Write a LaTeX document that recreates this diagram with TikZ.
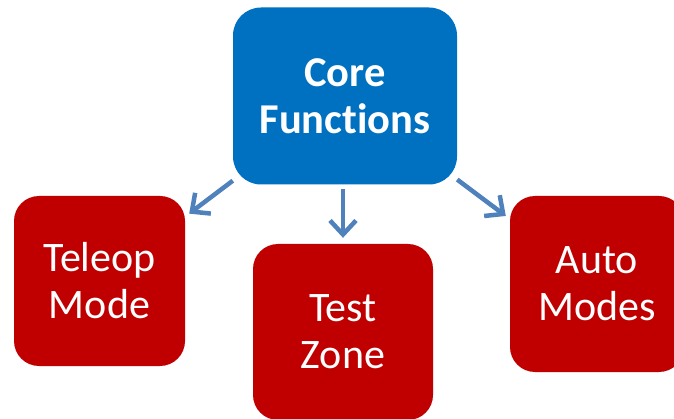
\documentclass[tikz,border=0pt]{standalone}
\usepackage{fontspec}
\setmainfont[Ligatures=NoCommon]{Carlito}
\usetikzlibrary{arrows.meta}
\definecolor{coreblue}{HTML}{0070C0}
\definecolor{boxred}{HTML}{C00000}
\definecolor{arrowblue}{HTML}{4F81BD}
\tikzset{
  corebox/.style={fill=coreblue, draw=none, rounded corners=28pt, text=white, align=center, inner sep=0pt,
    minimum width=224pt, minimum height=177pt, font=\fontsize{42.5}{47}\selectfont\bfseries},
  modebox/.style={fill=boxred, draw=none, rounded corners=25pt, text=white, align=center, inner sep=0pt,
    font=\fontsize{42}{47}\selectfont},
  link/.style={draw=arrowblue, line width=4.5pt, -{Straight Barb[length=14pt, width=26pt, line width=4.5pt]}}
}
\begin{document}
\begin{tikzpicture}[x=1pt,y=-1pt]
\clip (0,0) rectangle (674,419);
\fill[white] (0,0) rectangle (674,419);
\node[corebox] (core) at (345,96) {Core\\Functions};
\node[modebox, minimum width=171pt, minimum height=170pt] (teleop) at (99.5,281) {Teleop\\Mode};
\node[modebox, minimum width=180pt, minimum height=176pt] (test) at (343,332) {Test\\Zone};
\node[modebox, minimum width=174pt, minimum height=176pt] (auto) at (597,284) {Auto\\Modes};
\draw[link, shorten >=5pt] (core) -- (teleop);
\draw[link, shorten >=5pt] (core) -- (auto);
\draw[link, shorten <=4pt, shorten >=6pt] (core.south -| test.north) -- (test.north);
\end{tikzpicture}
\end{document}
